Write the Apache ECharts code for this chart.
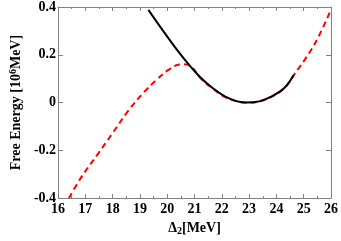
<!DOCTYPE html>
<html><head><meta charset="utf-8">
<script src="https://cdn.jsdelivr.net/npm/echarts@6/dist/echarts.min.js"></script>
<style>html,body{margin:0;padding:0;background:#fff}#c{width:341px;height:241px}</style>
</head><body><div id="c"></div>
<script>
const blackX = [19.31, 19.83, 20.29, 20.74, 21.2, 21.66, 22.11, 22.57, 22.91, 23.37, 23.83, 24.29, 24.63];
const blackY = [0.388, 0.303, 0.231, 0.166, 0.107, 0.061, 0.026, 0.005, 0.0, 0.005, 0.026, 0.061, 0.114];
const redX = [16.4, 16.86, 17.43, 18.0, 18.57, 19.14, 19.6, 20.06, 20.51, 20.86, 21.2, 21.66, 22.11, 22.57, 22.91, 23.37, 23.83, 24.29, 24.63, 25.09, 25.54, 26.0];
const redY = [-0.4, -0.311, -0.22, -0.128, -0.035, 0.042, 0.094, 0.138, 0.16, 0.152, 0.105, 0.059, 0.024, 0.004, -0.001, 0.004, 0.025, 0.06, 0.114, 0.188, 0.275, 0.39];
const xTicks = [16, 17, 18, 19, 20, 21, 22, 23, 24, 25, 26];
const yTicks = [-0.4, -0.2, 0, 0.2, 0.4];

const font = 'Liberation Serif';
const axisCol = '#808080';
function pairs(xs, ys){ return xs.map((x,i)=>[x, ys[i]]); }
function fmtY(v){ const r = Math.round(v*10)/10; if (r === 0) return '0'; return String(r); }

const common = {
  axisLine: {show: true, onZero: false, lineStyle: {color: axisCol, width: 1}},
  splitLine: {show: false},
};
const chart = echarts.init(document.getElementById('c'), null, {renderer: 'canvas'});
chart.setOption({
  animation: false,
  grid: {left: 42, right: 8, top: 6, bottom: 32},
  xAxis: [
    Object.assign({}, common, {
      type: 'value', min: xTicks[0], max: xTicks[xTicks.length-1], interval: 1, position: 'bottom',
      axisTick: {inside: true, length: 4, lineStyle: {color: axisCol}},
      minorTick: {show: true, splitNumber: 2, length: 2, lineStyle: {color: axisCol}},
      axisLabel: {color: '#000', fontFamily: font, fontWeight: 'bold', fontSize: 14, margin: 4},
      name: '{a|Δ}{s|2}{a|[MeV]}', nameLocation: 'middle', nameGap: 17,
      nameTextStyle: {rich: {
        a: {fontFamily: font, fontWeight: 'bold', fontSize: 14, color: '#000'},
        s: {fontFamily: font, fontWeight: 'bold', fontSize: 10, color: '#000', verticalAlign: 'bottom', padding: [6,0,0,0]}
      }}
    }),
    Object.assign({}, common, {
      type: 'value', min: xTicks[0], max: xTicks[xTicks.length-1], interval: 1, position: 'top',
      axisTick: {inside: true, length: 4, lineStyle: {color: axisCol}},
      minorTick: {show: true, splitNumber: 2, length: 2, lineStyle: {color: axisCol}},
      axisLabel: {show: false}
    })
  ],
  yAxis: [
    Object.assign({}, common, {
      type: 'value', min: yTicks[0], max: yTicks[yTicks.length-1], interval: 0.2, position: 'left',
      axisTick: {inside: true, length: 5, lineStyle: {color: axisCol}},
      axisLabel: {color: '#000', fontFamily: font, fontWeight: 'bold', fontSize: 14, margin: 2, formatter: fmtY},
      name: '{a|Free Energy [10}{s|6}{a|MeV]}', nameLocation: 'middle', nameGap: 28, nameRotate: 90,
      nameTextStyle: {rich: {
        a: {fontFamily: font, fontWeight: 'bold', fontSize: 14, color: '#000'},
        s: {fontFamily: font, fontWeight: 'bold', fontSize: 10, color: '#000', verticalAlign: 'top', padding: [0,0,6,0]}
      }}
    }),
    Object.assign({}, common, {
      type: 'value', min: yTicks[0], max: yTicks[yTicks.length-1], interval: 0.2, position: 'right',
      axisTick: {inside: true, length: 5, lineStyle: {color: axisCol}},
      axisLabel: {show: false}
    })
  ],
  series: [
    {type: 'line', data: pairs(redX, redY), smooth: 0.4, showSymbol: false, symbol: 'none',
     lineStyle: {color: '#ff0000', width: 2, type: [6, 4]}, clip: true, z: 2},
    {type: 'line', data: pairs(blackX, blackY), smooth: 0.4, showSymbol: false, symbol: 'none',
     lineStyle: {color: '#000', width: 2}, clip: true, z: 3}
  ]
});
</script></body></html>
